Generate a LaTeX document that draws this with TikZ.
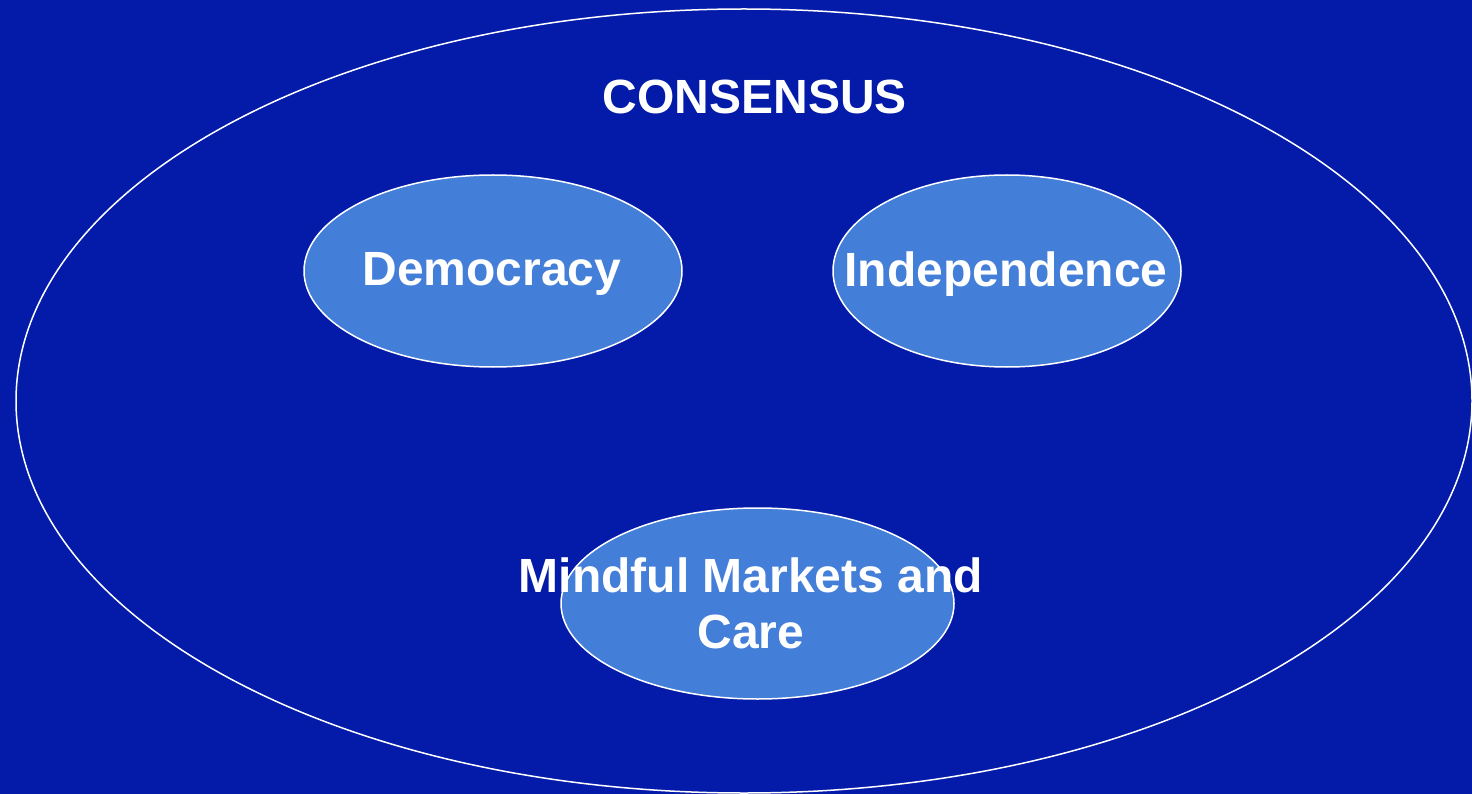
\documentclass[tikz,border=0pt]{standalone}
\usepackage{fontspec}
\setmainfont{Liberation Sans}
\definecolor{bg}{RGB}{3,27,168}
\definecolor{oval}{RGB}{67,126,216}
\tikzset{
  lbl/.style={text=white, font=\fontsize{48}{56}\selectfont\bfseries, align=center},
  smalloval/.style={draw=white, line width=1.5pt, fill=oval}
}
\begin{document}
\begin{tikzpicture}[x=1pt,y=-1pt]
\fill[bg] (0,0) rectangle (1472,794);
\useasboundingbox (0,0) rectangle (1472,794);
\draw[white, line width=1.5pt] (744,401) ellipse [x radius=728, y radius=392];
\node[lbl] (consensus) at (755,97) {CONSENSUS};
\fill[smalloval] (493,271) ellipse [x radius=189, y radius=96];
\fill[smalloval] (1007,271) ellipse [x radius=174, y radius=96];
\fill[smalloval] (757.5,603.5) ellipse [x radius=196.5, y radius=95.5];
\node[lbl] (democracy) at (492,274) {Democracy};
\node[lbl] (independence) at (1006,274) {Independence};
\node[lbl] (mindful) at (751,603) {Mindful Markets and\\Care};
\end{tikzpicture}
\end{document}
